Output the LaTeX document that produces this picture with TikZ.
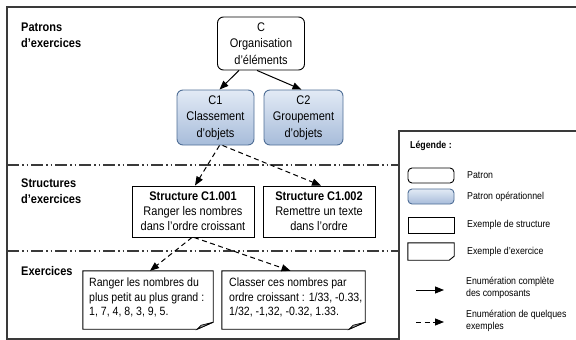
\documentclass[tikz,border=0pt]{standalone}
\usepackage{fontspec}
\setmainfont{Liberation Sans}[FakeStretch=0.88]
\usetikzlibrary{arrows.meta,calc}

\definecolor{frameclr}{HTML}{3A3A3A}
\definecolor{opborder}{HTML}{4F6E96}
\definecolor{optop}{HTML}{E2EAF5}
\definecolor{opbottom}{HTML}{A7BCDA}
\definecolor{foldgray}{HTML}{A0A0A0}

\tikzset{
  frameline/.style={draw=frameclr, line width=1.1pt},
  sepline/.style={draw=frameclr, line width=1.1pt,
    dash pattern=on 12pt off 3pt on 1.5pt off 3pt on 1.5pt off 3pt},
  seclabel/.style={font=\fontsize{12.5}{16}\selectfont\bfseries, align=left, inner sep=0pt},
  patronbox/.style={draw, line width=0.9pt, rounded corners=6pt, fill=white,
    align=center, inner sep=0pt, font=\fontsize{12.5}{16.5}\selectfont},
  patronop/.style={patronbox, draw=opborder, top color=optop, bottom color=opbottom},
  structbox/.style={draw, line width=0.9pt, fill=white, align=center, inner sep=0pt,
    font=\fontsize{12.5}{15}\selectfont},
  exframe/.style={inner sep=0pt},
  extext/.style={align=left, inner sep=0pt, anchor=west,
    font=\fontsize{12}{14.5}\selectfont},
  notedraw/.style={draw, line width=0.9pt, fill=white},
  legtext/.style={font=\fontsize{10}{12}\selectfont, align=left, inner sep=0pt, anchor=west},
  solidarrow/.style={-{Triangle[length=9pt,width=7pt]}, line width=1pt},
  dasharrow/.style={solidarrow, dash pattern=on 5pt off 3.5pt},
}

% outline of an exercise note: rectangle with a folded lower right corner
\newcommand\notebody[1]{%
  \path[notedraw] (#1.north west) -- (#1.north east) -- ([yshift=7pt]#1.south east)
    -- ([xshift=-16pt]#1.south east) -- (#1.south west) -- cycle;
  \path[draw, line width=0.7pt, fill=foldgray] ([yshift=7pt]#1.south east)
    -- ([xshift=-16pt]#1.south east) -- ([xshift=-12pt,yshift=4pt]#1.south east) -- cycle;}

\begin{document}
\begin{tikzpicture}[x=1pt,y=-1pt]
\useasboundingbox (0,0) rectangle (576,340);
\clip (0,0) rectangle (576,340);

% outer frame and level separators
\draw[frameline] (7,7) rectangle (590,339);
\draw[sepline] (7,165) -- (399,165);
\draw[sepline] (7,251) -- (399,251);

% level titles
\node[seclabel, anchor=north west] (labPatrons) at (21,23) {Patrons\\d’exercices};
\node[seclabel, anchor=north west] (labStruct) at (21,179) {Structures\\d’exercices};
\node[seclabel, anchor=north west] (labEx) at (21,266) {Exercices};

% patterns
\node[patronbox, minimum width=87pt, minimum height=53pt] (C) at (261,43.5)
  {C\\Organisation\\d’éléments};
\node[patronop, minimum width=77pt, minimum height=55pt] (C1) at (215.5,117.5)
  {C1\\Classement\\d’objets};
\node[patronop, minimum width=79pt, minimum height=55pt] (C2) at (303.5,117.5)
  {C2\\Groupement\\d’objets};

% structures
\node[structbox, minimum width=122pt, minimum height=51pt] (S1) at (193,211.5)
  {\textbf{Structure C1.001}\\Ranger les nombres\\dans l’ordre croissant};
\node[structbox, minimum width=112pt, minimum height=51pt] (S2) at (319,211.5)
  {\textbf{Structure C1.002}\\Remettre un texte\\dans l’ordre};

% exercises
\node[exframe, minimum width=130pt, minimum height=58pt] (E1) at (148,300) {};
\node[exframe, minimum width=143pt, minimum height=58pt] (E2) at (293.5,300) {};
\notebody{E1}
\notebody{E2}
\node[extext] (E1t) at (89,297.5)
  {Ranger les nombres du\\plus petit au plus grand :\\1, 7, 4, 8, 3, 9, 5.};
\node[extext] (E2t) at (229,297.5)
  {Classer ces nombres par\\ordre croissant : 1/33, -0.33,\\1/32, -1,32, -0.32, 1.33.};

% connectors
\draw[solidarrow] ([xshift=-22pt]C.south) -- ([xshift=4pt]C1.north);
\draw[solidarrow] ([xshift=-4pt]C.south) -- ([xshift=-2pt]C2.north);
\draw[dasharrow] ([xshift=4pt]C1.south) -- ([xshift=2pt]S1.north);
\draw[dasharrow] ([xshift=7pt]C1.south) -- ([xshift=2pt]S2.north);
\draw[dasharrow] ([xshift=-1pt]S1.south) -- ([xshift=2pt]E1.north);
\draw[dasharrow] ([xshift=1pt]S1.south) -- ([xshift=-3pt]E2.north);

% legend
\draw[frameline, fill=white] (399,131) rectangle (590,350);
\node[legtext, font=\fontsize{10}{12}\selectfont\bfseries] (legTitle) at (410,146) {Légende :};

\node[patronbox, minimum width=46pt, minimum height=15pt, rounded corners=4pt] (kP) at (431,175.5) {};
\node[legtext] (kPt) at (467,175.5) {Patron};
\node[patronop, minimum width=46pt, minimum height=15pt, rounded corners=4pt] (kO) at (431,196.5) {};
\node[legtext] (kOt) at (467,196.5) {Patron opérationnel};
\node[structbox, minimum width=46pt, minimum height=16pt] (kS) at (431,225) {};
\node[legtext] (kSt) at (467,225) {Exemple de structure};
\node[exframe, minimum width=46pt, minimum height=17pt] (kE) at (431,251.5) {};
\path[notedraw] (kE.north west) -- (kE.north east) -- ([yshift=4pt]kE.south east)
  -- ([xshift=-5pt]kE.south east) -- (kE.south west) -- cycle;
\node[legtext] (kEt) at (467,251.5) {Exemple d’exercice};

\coordinate (kA1) at (416,290);
\coordinate (kA2) at (444,290);
\draw[solidarrow, line width=0.9pt] (kA1) -- (kA2);
\node[legtext] (kAt) at (466,288) {Enumération complète\\des composants};
\coordinate (kB1) at (416,322);
\coordinate (kB2) at (444,322);
\draw[dasharrow, line width=0.9pt] (kB1) -- (kB2);
\node[legtext] (kBt) at (466,321) {Enumération de quelques\\exemples};
\end{tikzpicture}
\end{document}
